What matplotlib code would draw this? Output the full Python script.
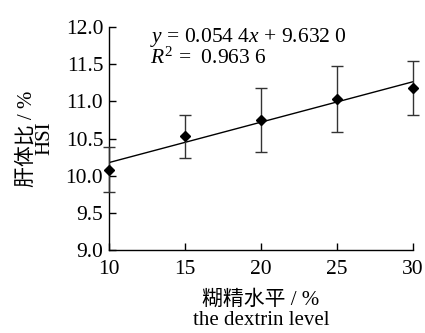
import matplotlib
matplotlib.use("Agg")
import matplotlib.pyplot as plt
import numpy as np

plt.rcParams['font.family'] = ['Liberation Serif', 'Noto Sans CJK SC']
plt.rcParams['mathtext.fontset'] = 'custom'
plt.rcParams['mathtext.rm'] = 'Liberation Serif'
plt.rcParams['mathtext.it'] = 'Liberation Serif:italic'

dextrin = [10, 15, 20, 25, 30]
hsi = [10.08, 10.53, 10.75, 11.03, 11.18]
hsi_err = [0.30, 0.29, 0.43, 0.44, 0.36]
slope = 0.0544
intercept = 9.6320
r2 = 0.9636

fig = plt.figure(figsize=(4.25, 3.33), dpi=100)
ax = fig.add_axes([0.256, 0.249, 0.716, 0.670])

ax.errorbar(dextrin, hsi, yerr=hsi_err, fmt='D', color='black', ms=5.5,
            ecolor='#333333', elinewidth=1, capsize=4, capthick=1, clip_on=False, zorder=3)
xs = np.array([dextrin[0], dextrin[-1]])
ax.plot(xs, slope * xs + intercept, color='black', lw=1)

ax.set_xlim(10, 30)
ax.set_ylim(9.0, 12.0)
ax.set_xticks(dextrin)
ax.set_yticks(np.arange(9.0, 12.01, 0.5))
ax.set_yticklabels(['%.1f' % v for v in np.arange(9.0, 12.01, 0.5)])
ax.tick_params(direction='in', length=5, width=1, labelsize=15.5, pad=4)
ax.tick_params(axis='x', pad=7)
for s in ['top', 'right']:
    ax.spines[s].set_visible(False)
for s in ['left', 'bottom']:
    ax.spines[s].set_linewidth(1)

ax.set_xlabel('糊精水平 / %\nthe dextrin level', fontsize=15, linespacing=1.1, labelpad=8)
ax.set_ylabel('肝体比 / %\nHSI', fontsize=15, linespacing=0.95, labelpad=8)

ax.text(0.135, 0.955, '$y$ = 0.054 4$x$ + 9.632 0', transform=ax.transAxes, fontsize=15.5, va='center')
ax.text(0.135, 0.86, '$R^2$ =  0.963 6', transform=ax.transAxes, fontsize=15.5, va='center')

fig.savefig('out.png', dpi=100)
